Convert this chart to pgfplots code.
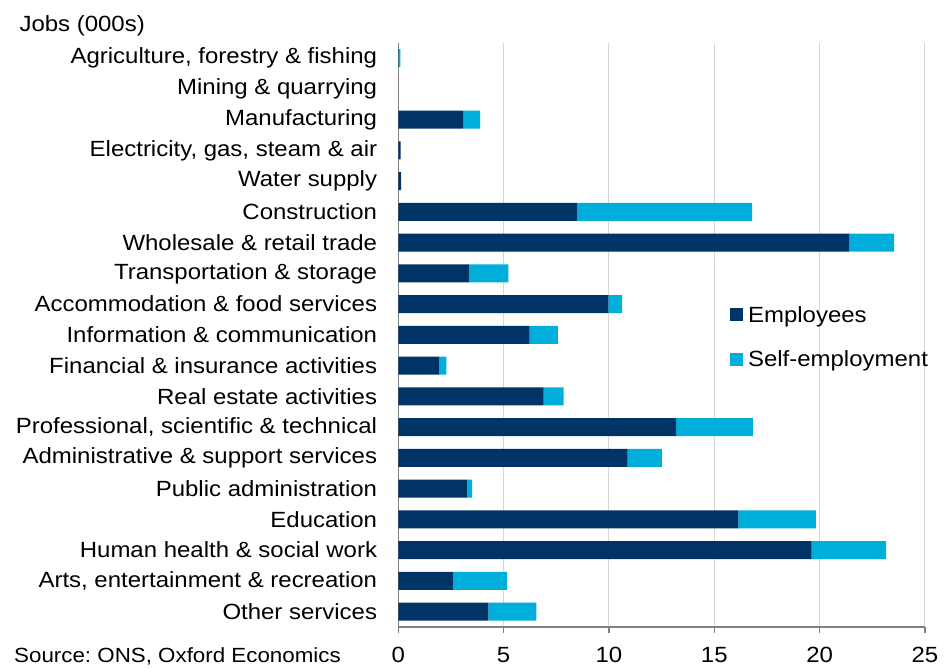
\documentclass[border=0pt]{standalone}
\usepackage{fontspec}
\setmainfont{Liberation Sans}[FakeStretch=1.09]
\usepackage{pgfplots}
\usepackage{pgfplotstable}
\pgfplotsset{compat=1.18}
\frenchspacing
\definecolor{emp}{RGB}{0,51,102}
\definecolor{selfc}{RGB}{0,174,219}
\definecolor{gridc}{RGB}{217,214,211}
\definecolor{axc}{RGB}{128,128,128}
\pgfplotstableread{
idx emp self
0 0.02 0.08
1 0 0
2 3.08 0.81
3 0.11 0
4 0.13 0
5 8.50 8.29
6 21.40 2.13
7 3.37 1.85
8 9.97 0.65
9 6.23 1.35
10 1.95 0.33
11 6.90 0.95
12 13.19 3.64
13 10.88 1.63
14 3.26 0.24
15 16.14 3.68
16 19.62 3.53
17 2.61 2.55
18 4.27 2.28
}\jobs
\begin{document}
\begin{tikzpicture}[x=1pt,y=1pt]
\path[use as bounding box] (-398.3,-42) rectangle (547.7,627);
\begin{axis}[
  at={(0,0)}, anchor=south west,
  scale only axis, width=526.7pt, height=584.3pt,
  xbar stacked, bar width=18pt,
  xmin=0, xmax=25, ymin=-0.5, ymax=18.5, y dir=reverse,
  ytick={0,...,18},
  yticklabels={{Agriculture, forestry \& fishing}, Mining \& quarrying, Manufacturing, {Electricity, gas, steam \& air}, Water supply, Construction, Wholesale \& retail trade, Transportation \& storage, Accommodation \& food services, Information \& communication, Financial \& insurance activities, Real estate activities, {Professional, scientific \& technical}, Administrative \& support services, Public administration, Education, Human health \& social work, {Arts, entertainment \& recreation}, Other services},
  xtick={0,5,...,25},
  xmajorgrids, grid style={gridc, line width=1pt},
  axis x line*=bottom, axis y line*=left,
  axis line style={axc, line width=1.5pt},
  ytick style={draw=none},
  xtick align=outside, major tick length=6pt,
  xtick style={axc, line width=1.2pt},
  /pgf/number format/assume math mode=true,
  tick label style={font=\fontsize{22}{26}\selectfont, text=black},
  yticklabel style={inner sep=0pt, xshift=-21pt},
  xticklabel style={inner sep=0pt, yshift=-14pt},
  legend style={at={(0.6295,0.553)}, anchor=north west, draw=none, fill=none,
    font=\fontsize{22}{26}\selectfont, row sep=23pt, inner sep=0pt},
  legend cell align=left,
  legend image code/.code={\fill[#1] (0pt,-6.5pt) rectangle (13pt,6.5pt); \path (0pt,0pt) -- (16pt,0pt);},
]
\addplot[fill=emp, draw=none] table[x=emp, y=idx] {\jobs};
\addplot[fill=selfc, draw=none] table[x=self, y=idx] {\jobs};
\legend{Employees, Self-employment}
\end{axis}
\node[anchor=base west, font=\fontsize{22}{26}\selectfont] at (-382.3,595) {Jobs (000s)};
\node[anchor=base west, font=\fontsize{20.5}{24}\selectfont, inner sep=0pt] at (-384.3,-35.5) {Source: ONS, Oxford Economics};
\end{tikzpicture}
\end{document}
